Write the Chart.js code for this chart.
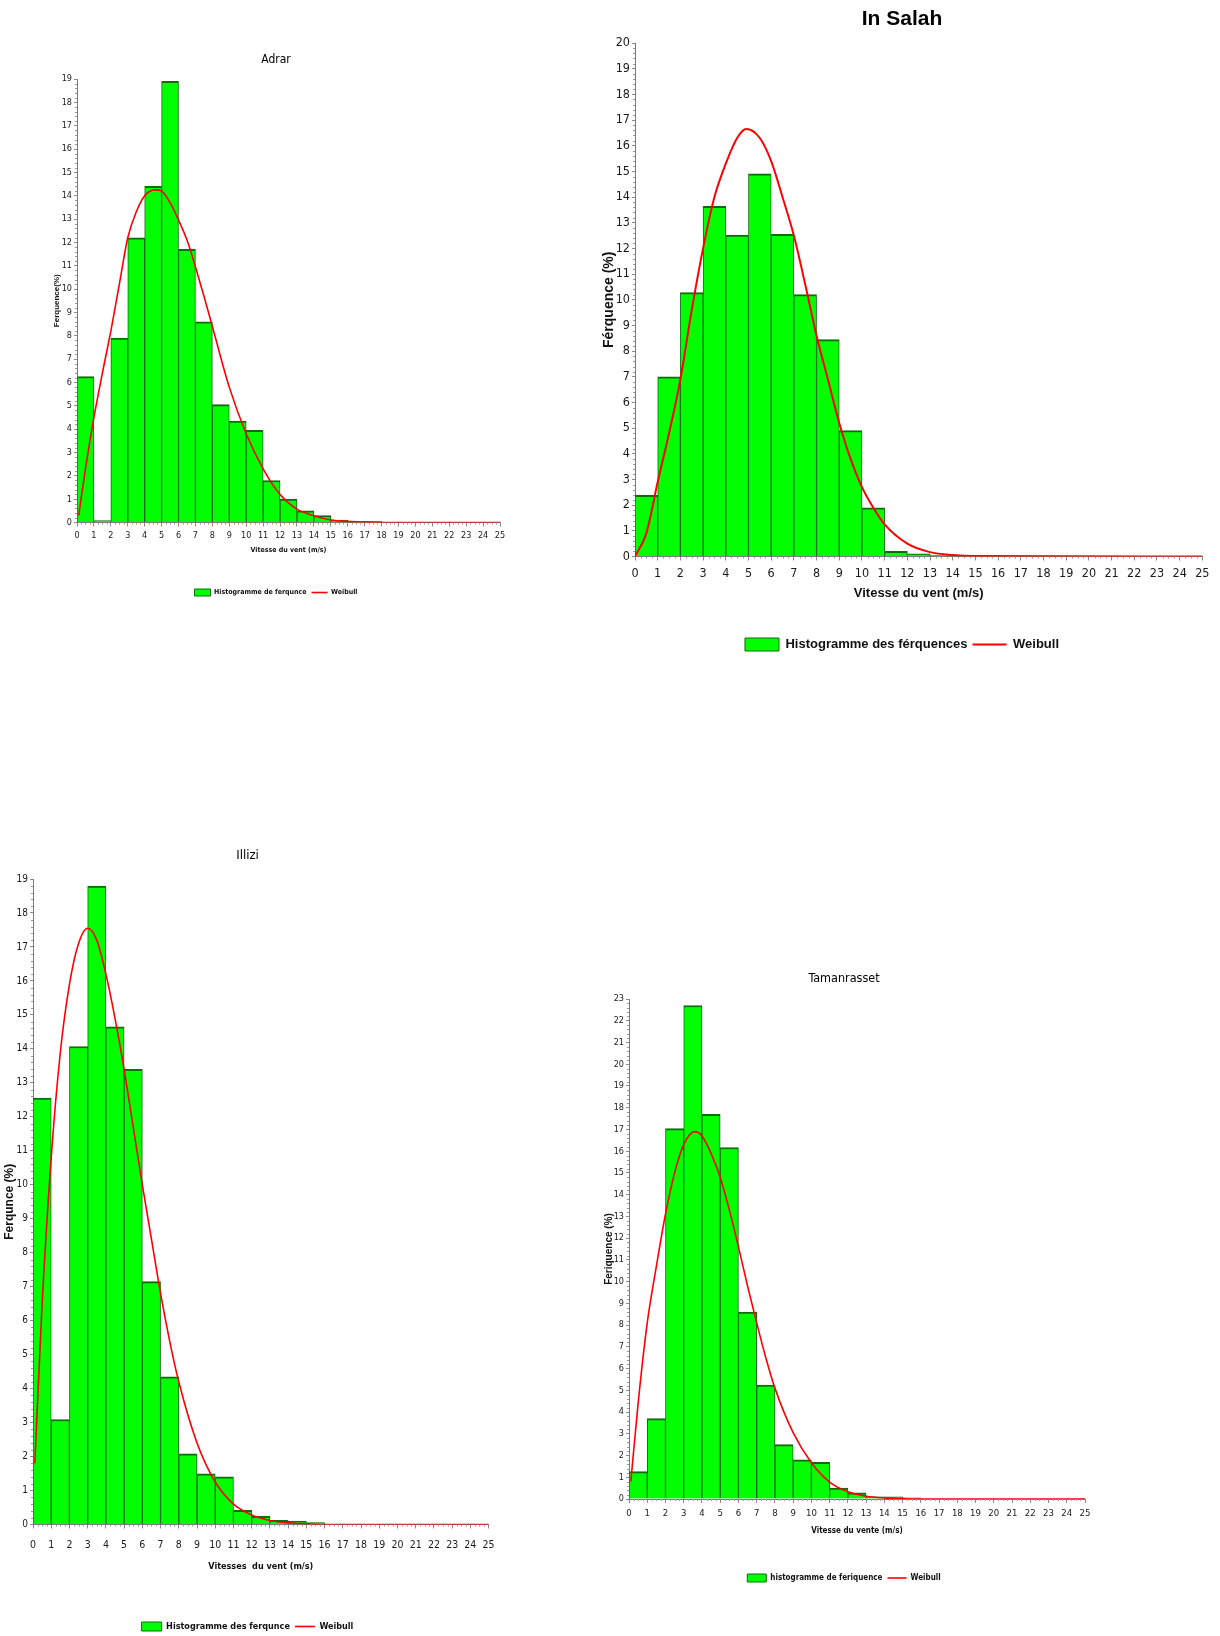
<!DOCTYPE html>
<html>
<head>
<meta charset="utf-8">
<script src="https://cdn.jsdelivr.net/npm/chart.js@4.4.1/dist/chart.umd.min.js"></script>
<style>
html,body{margin:0;padding:0;background:#fff;overflow:hidden;width:1220px;height:1636px;}
.box{position:absolute;}
</style>
</head>
<body>
<div class="box" id="b1"><canvas id="c1"></canvas></div>
<div class="box" id="b2"><canvas id="c2"></canvas></div>
<div class="box" id="b3"><canvas id="c3"></canvas></div>
<div class="box" id="b4"><canvas id="c4"></canvas></div>
<script>
// ---------- DATA ----------
// lower edge of each 1 m/s speed bin
const speedBins = [0,1,2,3,4,5,6,7,8,9,10,11,12,13,14,15,16,17,18,19,20,21,22,23,24];

// Adrar
const adrarFreq = [6.25,0.08,7.9,12.2,14.4,18.9,11.7,8.6,5.05,4.35,3.95,1.8,1.0,0.5,0.3,0.1,0.05,0.05,0,0,0,0,0,0,0];
const adrarWeibullSpeed = [0.1,0.5,1,1.5,2,2.5,3,3.5,4,4.6,5,5.5,6,6.5,7,7.5,8,9,10,11,12,13,14,15,16,17,18,25];
const adrarWeibullFreq  = [0.3,2.3,4.5,6.4,8.2,10.2,12.2,13.3,14.0,14.25,14.2,13.7,12.96,12.1,10.95,9.7,8.4,5.8,3.8,2.3,1.2,0.57,0.29,0.11,0.05,0.02,0,0];

// In Salah
const inSalahFreq = [2.38,7.0,10.28,13.64,12.52,14.9,12.55,10.2,8.45,4.9,1.9,0.2,0.1,0.06,0.05,0,0,0,0,0,0,0,0,0,0];
const inSalahWeibullSpeed = [0,0.5,1,1.5,2,2.5,3,3.5,4,4.5,4.9,5.5,6,6.5,7,7.5,8,8.5,9,9.5,10,10.5,11,12,13,14,15,25];
const inSalahWeibullFreq  = [0,0.9,2.9,4.8,6.9,9.6,12.0,14.0,15.3,16.3,16.65,16.3,15.4,14.0,12.5,10.6,8.6,6.9,5.2,3.8,2.7,1.9,1.25,0.5,0.17,0.06,0.02,0];

// Illizi
const illiziFreq = [12.55,3.09,14.07,18.79,14.65,13.4,7.15,4.35,2.08,1.49,1.4,0.42,0.24,0.12,0.1,0.06,0,0,0,0,0,0,0,0,0];
const illiziWeibullSpeed = [0.1,0.5,1,1.5,2,2.5,3,3.5,4,4.5,5,5.5,6,6.5,7,7.5,8,9,10,11,12,13,14,15,16,25];
const illiziWeibullFreq  = [1.8,6.5,10.8,13.9,15.9,17.1,17.55,17.2,16.2,14.9,13.4,11.7,10.0,8.4,6.8,5.4,4.2,2.4,1.25,0.6,0.28,0.12,0.05,0.02,0,0];

// Tamanrasset
const tamFreq = [1.26,3.7,17.04,22.7,17.7,16.17,8.6,5.24,2.5,1.8,1.69,0.5,0.28,0.1,0.1,0.05,0,0,0,0,0,0,0,0,0];
const tamWeibullSpeed = [0.1,0.5,1,1.5,2,2.5,3,3.6,4,4.5,5,5.5,6,6.5,7,7.5,8,9,10,11,12,13,14,15,16,25];
const tamWeibullFreq  = [0.8,4.4,8.1,10.7,13.1,15.0,16.3,16.9,16.7,15.9,14.8,13.3,11.6,9.8,8.1,6.5,5.1,3.05,1.67,0.78,0.33,0.13,0.05,0.02,0,0];

// ---------- STYLE ----------
const NARROW = "'Liberation Sans Narrow','Arial Narrow','DejaVu Sans Condensed',sans-serif";
const SANS = "'Liberation Sans',Arial,sans-serif";

const minorTicks = {
  id: 'minorTicks',
  afterDraw(chart) {
    const {ctx, chartArea, scales: {x, y}} = chart;
    ctx.save();
    ctx.strokeStyle = '#9a9a9a';
    ctx.lineWidth = 1;
    ctx.beginPath();
    for (let i = 0; i <= x.max * 4; i++) {
      if (i % 4 === 0) continue;
      const px = Math.round(x.getPixelForValue(i / 4)) + 0.5;
      ctx.moveTo(px, chartArea.bottom);
      ctx.lineTo(px, chartArea.bottom + 2);
    }
    for (let i = 0; i <= y.max * 5; i++) {
      if (i % 5 === 0) continue;
      const py = Math.round(y.getPixelForValue(i / 5)) + 0.5;
      ctx.moveTo(chartArea.left, py);
      ctx.lineTo(chartArea.left - 2, py);
    }
    ctx.stroke();
    ctx.restore();
  }
};

function makeChart(s) {
  const box = document.getElementById(s.box);
  box.style.left = s.left + 'px';
  box.style.top = s.top + 'px';
  const cv = document.getElementById(s.canvas);
  cv.width = s.width; cv.height = s.height;
  cv.style.width = s.width + 'px'; cv.style.height = s.height + 'px';

  new Chart(cv, {
    type: 'bar',
    data: {
      datasets: [
        {
          type: 'bar',
          label: s.barLabel,
          data: speedBins.map((b, i) => ({x: b + 0.5, y: s.freq[i]})),
          backgroundColor: '#00ff00',
          borderColor: '#0b6e0b',
          borderWidth: {top: 2, left: 1, right: 1, bottom: 0},
          barPercentage: 1,
          categoryPercentage: 1,
          pointStyle: 'rect',
          order: 1
        },
        {
          type: 'line',
          label: 'Weibull',
          data: s.wSpeed.map((v, i) => ({x: v, y: s.wFreq[i]})),
          borderColor: '#ff0000',
          backgroundColor: '#ff0000',
          borderWidth: s.lineWidth,
          pointRadius: 0,
          fill: false,
          cubicInterpolationMode: 'monotone',
          pointStyle: 'line',
          order: 0
        }
      ]
    },
    options: {
      responsive: false,
      animation: false,
      devicePixelRatio: 1,
      layout: {padding: {left: 0, top: 0, right: s.padRight, bottom: 0}},
      plugins: {
        tooltip: {enabled: false},
        title: {
          display: true,
          text: s.title,
          color: '#000',
          font: {family: s.titleFamily, size: s.titleSize, weight: s.titleWeight, lineHeight: 1.2},
          padding: {top: s.titlePadTop, bottom: s.titlePadBottom}
        },
        legend: {
          display: true,
          position: 'bottom',
          labels: {
            usePointStyle: true,
            pointStyleWidth: s.legendBoxW,
            boxHeight: s.legendSize,
            padding: 5,
            color: '#111',
            font: {family: s.legendFamily, size: s.legendSize, weight: 'bold', lineHeight: 1.2},
            sort: (a, b) => a.datasetIndex - b.datasetIndex
          }
        }
      },
      scales: {
        x: {
          type: 'linear',
          min: 0, max: 25,
          offset: false,
          afterFit: (sc) => { sc.height = s.xAxisHeight; },
          border: {display: true, color: '#7a7a7a', width: 1},
          grid: {display: true, drawOnChartArea: false, drawTicks: true, tickLength: 4, color: '#8a8a8a', offset: false},
          ticks: {stepSize: 1, autoSkip: false, maxRotation: 0, color: '#1a1a1a', padding: s.xTickPad,
                  font: {family: s.tickFamily, size: s.tickSize}},
          title: {display: true, text: s.xTitle, color: '#111',
                  font: {family: s.xTitleFamily, size: s.xTitleSize, weight: 'bold', lineHeight: 1.2},
                  padding: {top: 0, bottom: s.xTitlePadBottom}}
        },
        y: {
          type: 'linear',
          min: 0, max: s.yMax,
          afterFit: (sc) => { sc.width = s.yAxisWidth; },
          border: {display: true, color: '#7a7a7a', width: 1},
          grid: {display: true, drawOnChartArea: false, drawTicks: true, tickLength: 3, color: '#8a8a8a'},
          ticks: {stepSize: 1, autoSkip: false, color: '#1a1a1a', padding: 2,
                  font: {family: s.tickFamily, size: s.yTickSize || s.tickSize}},
          title: {display: true, text: s.yTitle, color: '#111',
                  font: {family: SANS, size: s.yTitleSize, weight: 'bold', lineHeight: 1.2},
                  padding: {top: 0, bottom: 0}}
        }
      }
    },
    plugins: [minorTicks]
  });
}

makeChart({
  box: 'b1', canvas: 'c1', left: 52, top: 40, width: 458, height: 566, padRight: 10,
  freq: adrarFreq, wSpeed: adrarWeibullSpeed, wFreq: adrarWeibullFreq, lineWidth: 1.6,
  title: 'Adrar', titleFamily: NARROW, titleSize: 12, titleWeight: 'normal', titlePadTop: 12.8, titlePadBottom: 11.8,
  yTitle: 'Ferquence(%)', yTitleSize: 8, yAxisWidth: 25, yMax: 19,
  xTitle: 'Vitesse du vent (m/s)', xTitleFamily: NARROW, xTitleSize: 7, xAxisHeight: 61.5, xTitlePadBottom: 29.3,
  tickFamily: NARROW, tickSize: 9, xTickPad: 4,
  barLabel: 'Histogramme de ferqunce', legendFamily: NARROW, legendSize: 7, legendBoxW: 16
});

makeChart({
  box: 'b2', canvas: 'c2', left: 601, top: 0, width: 614, height: 661, padRight: 12,
  freq: inSalahFreq, wSpeed: inSalahWeibullSpeed, wFreq: inSalahWeibullFreq, lineWidth: 2,
  title: 'In Salah', titleFamily: SANS, titleSize: 21, titleWeight: 'bold', titlePadTop: 6.4, titlePadBottom: 11.4,
  yTitle: 'Férquence (%)', yTitleSize: 14, yAxisWidth: 34, yMax: 20,
  xTitle: 'Vitesse du vent (m/s)', xTitleFamily: SANS, xTitleSize: 13, xAxisHeight: 76.5, xTitlePadBottom: 31.7,
  tickFamily: NARROW, tickSize: 12.5, xTickPad: 5.5,
  barLabel: 'Histogramme des férquences', legendFamily: SANS, legendSize: 13, legendBoxW: 34
});

makeChart({
  box: 'b3', canvas: 'c3', left: 2, top: 830, width: 503, height: 811, padRight: 12,
  freq: illiziFreq, wSpeed: illiziWeibullSpeed, wFreq: illiziWeibullFreq, lineWidth: 1.6,
  title: 'Illizi', titleFamily: NARROW, titleSize: 13, titleWeight: 'normal', titlePadTop: 18.2, titlePadBottom: 15.2,
  yTitle: 'Ferqunce (%)', yTitleSize: 12, yAxisWidth: 31, yMax: 19,
  xTitle: 'Vitesses  du vent (m/s)', xTitleFamily: NARROW, xTitleSize: 9, xAxisHeight: 92.5, xTitlePadBottom: 45.1,
  tickFamily: NARROW, tickSize: 10.5, yTickSize: 10, xTickPad: 10.4,
  barLabel: 'Histogramme des ferqunce', legendFamily: NARROW, legendSize: 9, legendBoxW: 20
});

makeChart({
  box: 'b4', canvas: 'c4', left: 603, top: 960, width: 494, height: 632, padRight: 12,
  freq: tamFreq, wSpeed: tamWeibullSpeed, wFreq: tamWeibullFreq, lineWidth: 1.6,
  title: 'Tamanrasset', titleFamily: NARROW, titleSize: 12.5, titleWeight: 'normal', titlePadTop: 11.5, titlePadBottom: 12.5,
  yTitle: 'Feriquence (%)', yTitleSize: 10, yAxisWidth: 26, yMax: 23,
  xTitle: 'Vitesse du vente (m/s)', xTitleFamily: NARROW, xTitleSize: 8, xAxisHeight: 70, xTitlePadBottom: 33.2,
  tickFamily: NARROW, tickSize: 9.5, yTickSize: 9, xTickPad: 5,
  barLabel: 'histogramme de feriquence', legendFamily: NARROW, legendSize: 8, legendBoxW: 19
});
</script>
</body>
</html>
